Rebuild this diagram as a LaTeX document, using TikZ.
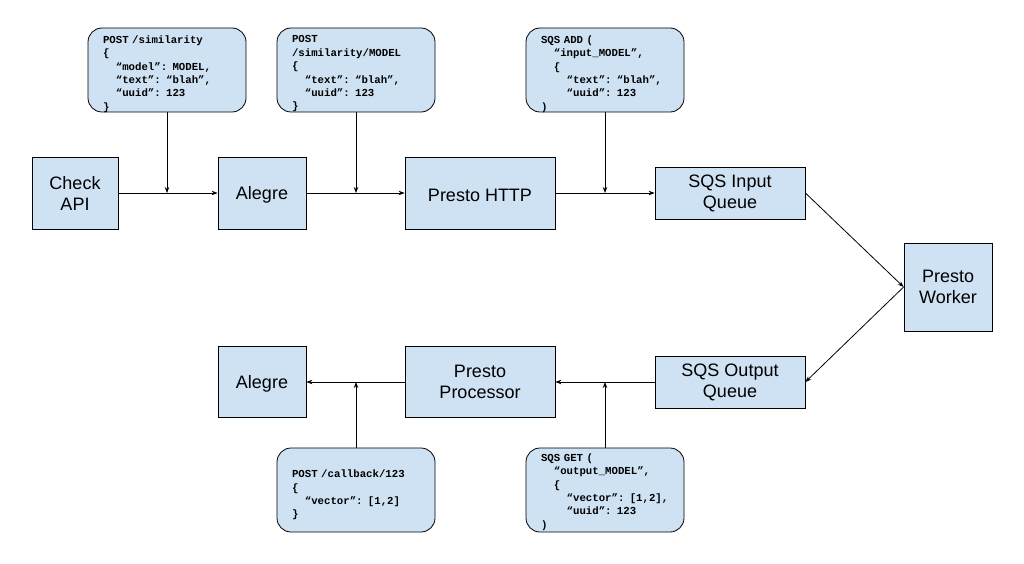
\documentclass[tikz,border=0pt]{standalone}
\usepackage{fontspec}
\setmainfont{Liberation Sans}
\newfontfamily\codefont{Liberation Mono}
\usetikzlibrary{arrows.meta}
\definecolor{boxblue}{HTML}{CFE2F3}
\newcommand{\ind}{\hspace*{1.2em}}
\begin{document}
\begin{tikzpicture}[x=1pt,y=-1pt,
  proc/.style={draw=black,line width=0.8pt,fill=boxblue,inner sep=0pt,align=center,
    font=\fontsize{18}{21}\selectfont,execute at begin node={\rule{0pt}{17pt}}},
  callout/.style={draw=black,line width=0.8pt,fill=boxblue,rounded corners=14pt,
    minimum width=158pt,minimum height=84pt,inner sep=0pt},
  code/.style={text width=128pt,inner sep=0pt,align=left,
    font=\codefont\bfseries\fontsize{10.7}{13.4}\selectfont},
  arr/.style={line width=0.8pt,-{Stealth[length=6pt,width=4.5pt]}}]
\useasboundingbox (0,0) rectangle (1024,564);
% process boxes
\node[proc,minimum width=86pt,minimum height=72pt] (check) at (75,193) {Check\\API};
\node[proc,minimum width=88pt,minimum height=72pt] (alegre1) at (262,193) {Alegre};
\node[proc,minimum width=150pt,minimum height=72pt] (http) at (480,193) {Presto HTTP};
\node[proc,minimum width=150pt,minimum height=52pt] (sin) at (730,193) {SQS Input\\Queue};
\node[proc,minimum width=88pt,minimum height=88pt] (worker) at (948,287) {Presto\\Worker};
\node[proc,minimum width=150pt,minimum height=52pt] (sout) at (730,382) {SQS Output\\Queue};
\node[proc,minimum width=150pt,minimum height=71pt] (procr) at (480,382) {Presto\\Processor};
\node[proc,minimum width=88pt,minimum height=71pt] (alegre2) at (262,382) {Alegre};
% callouts
\node[callout] (c1) at (167,70) {};
\node[code,yshift=-4pt] (t1) at (c1) {POST /similarity\\\{\\\ind“model”: MODEL,\\\ind“text”: “blah”,\\\ind“uuid”: 123\\\}};
\node[callout] (c2) at (356,70) {};
\node[code,yshift=-4pt] (t2) at (c2) {POST\\/similarity/MODEL\\\{\\\ind“text”: “blah”,\\\ind“uuid”: 123\\\}};
\node[callout] (c3) at (605,70) {};
\node[code,yshift=-4pt] (t3) at (c3) {SQS ADD (\\\ind“input\_MODEL”,\\\ind\{\\\ind\ind“text”: “blah”,\\\ind\ind“uuid”: 123\\)};
\node[callout] (c4) at (356,490) {};
\node[code,yshift=-5pt] (t4) at (c4) {POST /callback/123\\\{\\\ind“vector”: [1,2]\\\}};
\node[callout] (c5) at (605,490) {};
\node[code,yshift=-2pt] (t5) at (c5) {SQS GET (\\\ind“output\_MODEL”,\\\ind\{\\\ind\ind“vector”: [1,2],\\\ind\ind“uuid”: 123\\)};
% junctions
\coordinate (j1) at (c1.south |- check.east);
\coordinate (j2) at (c2.south |- check.east);
\coordinate (j3) at (c3.south |- check.east);
\coordinate (j4) at (c4.north |- sout.west);
\coordinate (j5) at (c5.north |- sout.west);
% connectors
\draw[arr] (check) -- (alegre1);
\draw[arr] (alegre1) -- (http);
\draw[arr] (http) -- (sin);
\draw[arr] (c1.south) -- (j1);
\draw[arr] (c2.south) -- (j2);
\draw[arr] (c3.south) -- (j3);
\draw[arr] (sin.east) -- (worker.west);
\draw[arr] (worker.west) -- (sout.east);
\draw[arr] (sout) -- (procr);
\draw[arr] (procr) -- (alegre2);
\draw[arr] (c4.north) -- (j4);
\draw[arr] (c5.north) -- (j5);
\end{tikzpicture}
\end{document}
